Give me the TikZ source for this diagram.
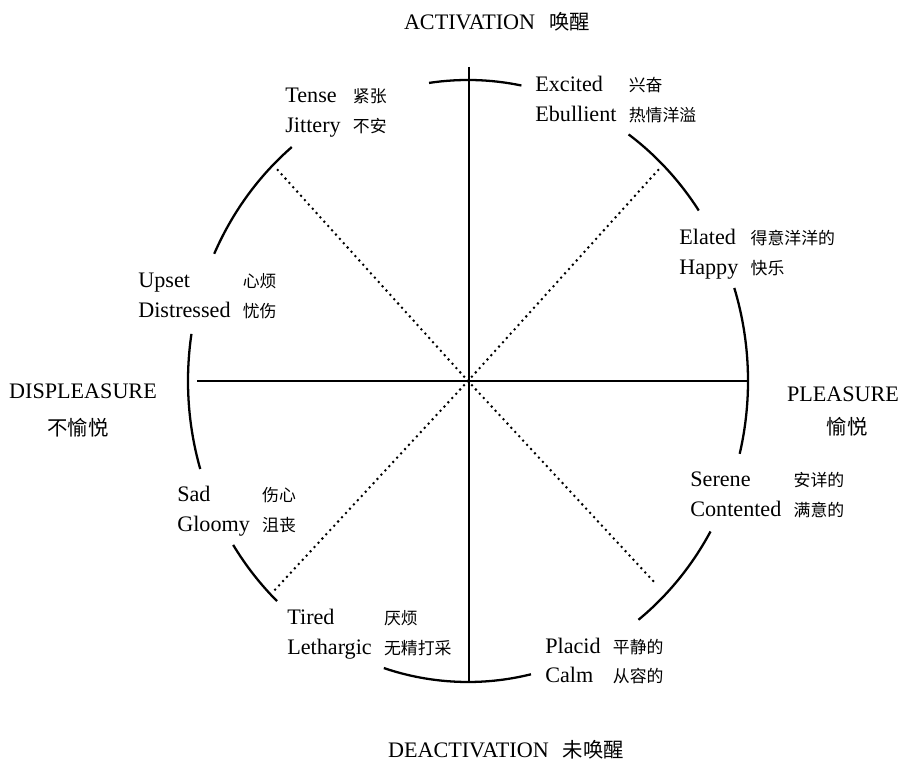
\documentclass[tikz,border=0pt]{standalone}
\usepackage{fontspec}
\setmainfont{Liberation Serif}
\newfontfamily\zhfont{Noto Sans CJK SC}

\newcommand{\zhsmall}{\zhfont\fontsize{9.6}{17}\selectfont}
\newcommand{\zhbig}{\zhfont\fontsize{11.6}{21}\selectfont}

% two rows: english word, chinese word
\newcommand{\emolabel}[4]{%
    \begin{tabular}[t]{@{}l@{\hspace{7pt}}l@{}}
    #1 & {\zhsmall #2}\\
    #3 & {\zhsmall #4}
    \end{tabular}}

\begin{document}
\begin{tikzpicture}[
    x=0.02cm, y=0.02cm,
    axis/.style={line width=0.6pt},
    rim/.style={line width=1.3pt},
    diag/.style={
        line width=1.6pt,
        line cap=round,
        dash pattern=on 0pt off 3.3pt
    },
    emo/.style={
        anchor=base west,
        inner sep=0pt,
        font=\fontsize{12.6}{17}\selectfont
    },
    pole/.style={
        anchor=base,
        inner sep=0pt,
        font=\fontsize{12.6}{15}\selectfont
    },
    polezh/.style={
        inner sep=0pt,
        font=\zhbig
    }
]
\useasboundingbox (0,0) rectangle (901,763);

% ---------------------------------
% Axes
% ---------------------------------
\coordinate (O) at (468,382);
\coordinate (axN) at (469,696);
\coordinate (axS) at (469,81);
\coordinate (axW) at (197,382);
\coordinate (axE) at (748,382);

\draw[axis] (axN) -- (axS);
\draw[axis] (axW) -- (axE);

% dotted diagonals
\coordinate (dNE) at (660,595);
\coordinate (dNW) at (275,596);
\coordinate (dSW) at (272,170);
\coordinate (dSE) at (655,180);

\foreach \d in {dNE,dNW,dSW,dSE}
    \draw[diag] (O) -- (\d);

% ---------------------------------
% Broken rim
% ---------------------------------
\foreach \a/\b in {79/98, 34.5/55, -14/18, -52.5/-30, -107.5/-77, 213/227, 171/197, 129/155}
    \draw[rim] ([shift={(O)}] \a:280 and 301)
        arc[start angle=\a, end angle=\b, x radius=280, y radius=301];

% ---------------------------------
% Poles
% ---------------------------------
\node[pole] (lblAct) at (497,733) {ACTIVATION\hspace{8pt}{\zhbig 唤醒}};
\node[pole] (lblDeact) at (506,6) {DEACTIVATION\hspace{8pt}{\zhbig 未唤醒}};

\node[pole] (lblDispl) at (83,364) {DISPLEASURE};
\node[polezh] (lblDisplZh) at (78,335) {不愉悦};

\node[pole] (lblPleas) at (843,361) {PLEASURE};
\node[polezh] (lblPleasZh) at (847,336) {愉悦};

% ---------------------------------
% Emotions
% ---------------------------------
\node[emo] (emoTense) at (285,660) {\emolabel{Tense}{紧张}{Jittery}{不安}};
\node[emo] (emoExcited) at (535,671) {\emolabel{Excited}{兴奋}{Ebullient}{热情洋溢}};
\node[emo] (emoElated) at (679,518) {\emolabel{Elated}{得意洋洋的}{Happy}{快乐}};
\node[emo] (emoUpset) at (138,475) {\emolabel{Upset}{心烦}{Distressed}{忧伤}};
\node[emo] (emoSad) at (177,261) {\emolabel{Sad}{伤心}{Gloomy}{沮丧}};
\node[emo] (emoSerene) at (690,276) {\emolabel{Serene}{安详的}{Contented}{满意的}};
\node[emo] (emoTired) at (287,138) {\emolabel{Tired}{厌烦}{Lethargic}{无精打采}};
\node[emo] (emoPlacid) at (545,110) {\emolabel{Placid}{平静的}{Calm}{从容的}};

\end{tikzpicture}
\end{document}
